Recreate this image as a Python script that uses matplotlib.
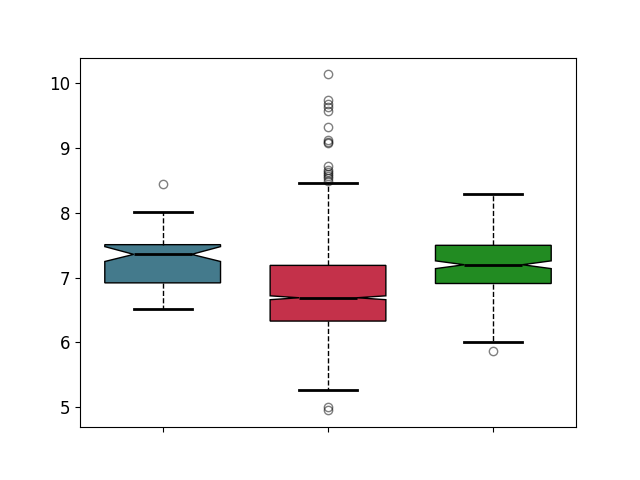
import matplotlib
matplotlib.use("Agg")
from matplotlib import pyplot as plt

# summary values (one entry per box)
medians = [7.36, 6.69, 7.20]
q1s = [6.92, 6.33, 6.91]
q3s = [7.51, 7.19, 7.50]
ci_low = [7.25, 6.66, 7.14]
ci_high = [7.48, 6.72, 7.26]
whisker_low = [6.51, 5.26, 6.00]
whisker_high = [8.02, 8.46, 8.30]
fliers = [
    [8.44],
    [10.14, 9.74, 9.69, 9.63, 9.58, 9.32, 9.13, 9.10, 9.08,
     8.72, 8.67, 8.63, 8.60, 8.57, 8.54, 8.50, 5.01, 4.95],
    [5.87],
]
box_colors = ["#447a8c", "#c4314a", "#228b22"]

# build stats for bxp
stats = []
for i in range(len(medians)):
    stats.append({
        "med": medians[i], "q1": q1s[i], "q3": q3s[i],
        "cilo": ci_low[i], "cihi": ci_high[i],
        "whislo": whisker_low[i], "whishi": whisker_high[i],
        "fliers": fliers[i],
    })

fig, ax = plt.subplots(figsize=(6.4, 4.8), dpi=100)

bp = ax.bxp(stats, shownotches=True, patch_artist=True, widths=0.7,
            boxprops=dict(edgecolor="black", linewidth=1),
            medianprops=dict(color="black", linewidth=2),
            whiskerprops=dict(color="black", linestyle="--", linewidth=1),
            capprops=dict(color="black", linewidth=2),
            flierprops=dict(marker="o", markerfacecolor="none",
                            markeredgecolor="black", alpha=0.5))

for patch, c in zip(bp["boxes"], box_colors):
    patch.set_facecolor(c)

ax.set_xticks([1, 2, 3])
ax.set_xticklabels(["", "", ""])
ax.tick_params(axis="y", labelsize=12)

fig.savefig("out.png")
